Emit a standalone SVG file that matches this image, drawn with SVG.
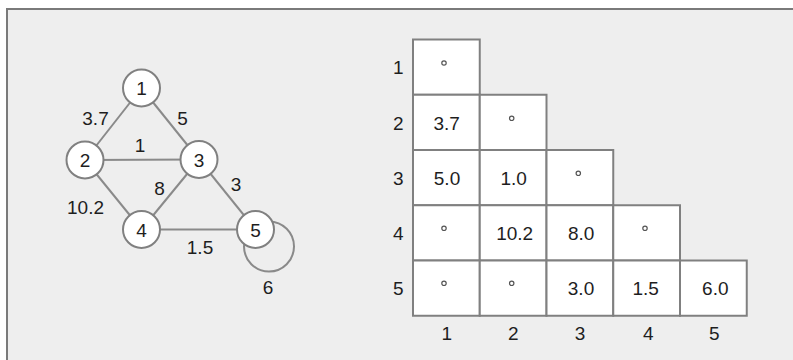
<svg xmlns="http://www.w3.org/2000/svg" width="793" height="360" viewBox="0 0 793 360">
<style>
text{font-family:"Liberation Sans",Arial,sans-serif;font-size:19px;fill:#1e1e1e;text-anchor:middle}
.node circle{fill:#fff;stroke:#808080;stroke-width:2}
.edge{stroke:#8a8a8a;stroke-width:2;fill:none}
.cell{fill:#fff;stroke:#808080;stroke-width:2}
.dot{fill:none;stroke:#555;stroke-width:1.2}
</style>
<rect x="0" y="0" width="793" height="360" fill="#fff"/>
<rect x="7" y="9" width="790" height="360" fill="#eeeeee"/>
<path d="M7 370 V9 H793" fill="none" stroke="#7a7a7a" stroke-width="2"/>
<g id="connectors">
<line class="edge" x1="141.5" y1="88" x2="85" y2="160"/>
<line class="edge" x1="141.5" y1="88" x2="199" y2="159.5"/>
<line class="edge" x1="85" y1="160" x2="199" y2="159.5"/>
<line class="edge" x1="85" y1="160" x2="141.5" y2="229.5"/>
<line class="edge" x1="199" y1="159.5" x2="141.5" y2="229.5"/>
<line class="edge" x1="199" y1="159.5" x2="255.5" y2="229.5"/>
<line class="edge" x1="141.5" y1="229.5" x2="255.5" y2="229.5"/>
<circle class="edge" cx="269" cy="246.5" r="25"/>
<text x="95.5" y="125">3.7</text>
<text x="182.5" y="125">5</text>
<text x="140" y="152">1</text>
<text x="159.5" y="195">8</text>
<text x="236" y="191">3</text>
<text x="85.5" y="214">10.2</text>
<text x="200" y="254">1.5</text>
<text x="268" y="294">6</text>
</g>
<g id="n1" class="node"><circle cx="141.5" cy="88" r="18.5"/><text x="141.5" y="95">1</text></g>
<g id="n2" class="node"><circle cx="85" cy="160" r="18.5"/><text x="85" y="167">2</text></g>
<g id="n3" class="node"><circle cx="199" cy="159.5" r="18.5"/><text x="199" y="166.5">3</text></g>
<g id="n4" class="node"><circle cx="141.5" cy="229.5" r="18.5"/><text x="141.5" y="236.5">4</text></g>
<g id="n5" class="node"><circle cx="255.5" cy="229.5" r="18.5"/><text x="255.5" y="236.5">5</text></g>
<g id="matrix">
<rect class="cell" x="413" y="39.5" width="66.75" height="55.25"/>
<rect class="cell" x="413" y="94.75" width="66.75" height="55.25"/>
<rect class="cell" x="479.75" y="94.75" width="66.75" height="55.25"/>
<rect class="cell" x="413" y="150" width="66.75" height="55.25"/>
<rect class="cell" x="479.75" y="150" width="66.75" height="55.25"/>
<rect class="cell" x="546.5" y="150" width="66.75" height="55.25"/>
<rect class="cell" x="413" y="205.25" width="66.75" height="55.25"/>
<rect class="cell" x="479.75" y="205.25" width="66.75" height="55.25"/>
<rect class="cell" x="546.5" y="205.25" width="66.75" height="55.25"/>
<rect class="cell" x="613.25" y="205.25" width="66.75" height="55.25"/>
<rect class="cell" x="413" y="260.5" width="66.75" height="55.25"/>
<rect class="cell" x="479.75" y="260.5" width="66.75" height="55.25"/>
<rect class="cell" x="546.5" y="260.5" width="66.75" height="55.25"/>
<rect class="cell" x="613.25" y="260.5" width="66.75" height="55.25"/>
<rect class="cell" x="680" y="260.5" width="66.75" height="55.25"/>
<circle class="dot" cx="444" cy="63" r="2.2"/>
<circle class="dot" cx="511.7" cy="118.3" r="2.2"/>
<circle class="dot" cx="578.3" cy="173.3" r="2.2"/>
<circle class="dot" cx="444" cy="228.3" r="2.2"/>
<circle class="dot" cx="645" cy="228.3" r="2.2"/>
<circle class="dot" cx="444" cy="283.3" r="2.2"/>
<circle class="dot" cx="511.7" cy="283.3" r="2.2"/>
<text x="446.7" y="129.5">3.7</text>
<text x="447" y="184.5">5.0</text>
<text x="513.7" y="184.5">1.0</text>
<text x="514.7" y="240">10.2</text>
<text x="581.2" y="240">8.0</text>
<text x="581" y="295">3.0</text>
<text x="645.7" y="295">1.5</text>
<text x="715.3" y="295">6.0</text>
<text x="398.3" y="74">1</text>
<text x="398.3" y="129.5">2</text>
<text x="398.3" y="184.5">3</text>
<text x="398.3" y="240">4</text>
<text x="398.3" y="295">5</text>
<text x="446.7" y="340">1</text>
<text x="513.3" y="340">2</text>
<text x="580" y="340">3</text>
<text x="648.3" y="340">4</text>
<text x="714.3" y="340">5</text>
</g>
</svg>
